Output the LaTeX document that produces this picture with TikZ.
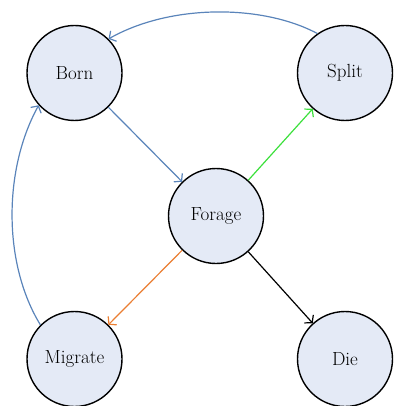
\documentclass[tikz,border=0pt]{standalone}
\usepackage{fontspec}
\usetikzlibrary{arrows.meta}
\definecolor{nodefill}{HTML}{E4EAF6}
\definecolor{eblue}{HTML}{5A84BA}
\definecolor{egreen}{HTML}{3CE03C}
\definecolor{eorange}{HTML}{EA7E32}
\newcommand{\lblfont}{\fontsize{19}{23}\selectfont}
\begin{document}
\begin{tikzpicture}[x=1pt,y=-1pt,
  statebox/.style={circle,draw=black,line width=1.4pt,fill=nodefill,minimum size=95pt,inner sep=0pt,font=\lblfont},
  edge/.style={line width=1.2pt,-{Straight Barb[length=5pt,width=12pt]}}]
\useasboundingbox (0,0) rectangle (400,406);
\node[statebox] (born) at (74.5,73) {Born};
\node[statebox] (split) at (345,73) {Split};
\node[statebox] (forage) at (216,216) {Forage};
\node[statebox] (migrate) at (74.5,359) {Migrate};
\node[statebox] (die) at (345,359) {Die};
\draw[edge,eblue] (split.125) .. controls (262,4) and (170,4) .. (born.45);
\draw[edge,eblue] (born) -- (forage);
\draw[edge,eblue] (migrate.135) .. controls (3,264) and (3,170) .. (born.222);
\draw[edge,egreen] (forage) -- (split);
\draw[edge,eorange] (forage) -- (migrate);
\draw[edge,black] (forage) -- (die);
\end{tikzpicture}
\end{document}
